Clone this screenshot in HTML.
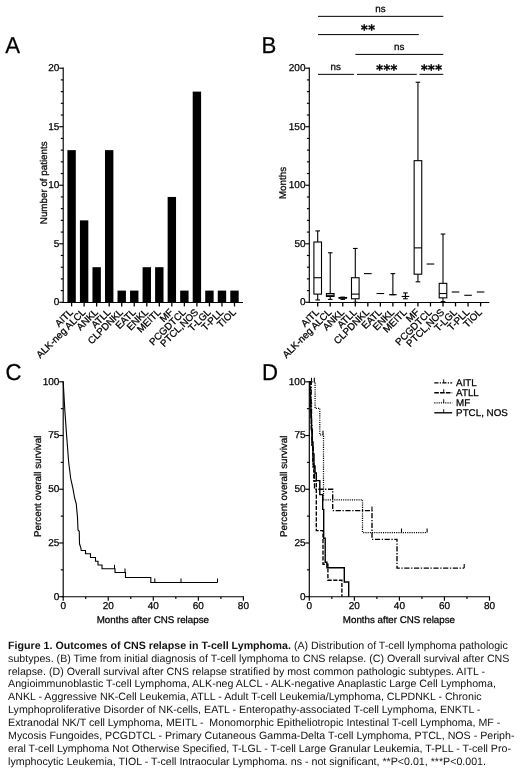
<!DOCTYPE html>
<html lang="en">
<head>
<meta charset="utf-8">
<title>Figure 1. Outcomes of CNS relapse in T-cell Lymphoma</title>
<style>
html,body{margin:0;padding:0;background:#fff;}
body{will-change:transform;width:520px;height:775px;position:relative;overflow:hidden;font-family:"Liberation Sans",Arial,Helvetica,sans-serif;color:#000;}
svg{position:absolute;left:0;top:0;}
svg text.cap{stroke:none;fill:#111;white-space:pre;}
svg text{font-family:"Liberation Sans",Arial,Helvetica,sans-serif;fill:#000;stroke:#000;stroke-width:0.25px;text-rendering:geometricPrecision;}
</style>
</head>
<body>
<svg width="520" height="775" viewBox="0 0 520 775">
<text font-size="23.0" transform="translate(5.2 53.0) scale(0.965 1)">A</text>
<text font-size="23.0" transform="translate(261.6 53.2) scale(0.965 1)">B</text>
<text font-size="23.0" transform="translate(5.6 380.2) scale(0.965 1)">C</text>
<text font-size="23.0" transform="translate(261.9 380.3) scale(0.965 1)">D</text>
<line x1="63.20" y1="67.62" x2="63.20" y2="302.88" stroke="#000" stroke-width="1.15" />
<line x1="62.62" y1="302.50" x2="243.00" y2="302.50" stroke="#000" stroke-width="1.15" />
<line x1="59.20" y1="302.30" x2="63.20" y2="302.30" stroke="#000" stroke-width="1.15" />
<text x="59.40" y="305.15" font-size="10.0" text-anchor="end" >0</text>
<line x1="60.80" y1="290.60" x2="63.20" y2="290.60" stroke="#000" stroke-width="1.15" />
<line x1="60.80" y1="278.89" x2="63.20" y2="278.89" stroke="#000" stroke-width="1.15" />
<line x1="60.80" y1="267.19" x2="63.20" y2="267.19" stroke="#000" stroke-width="1.15" />
<line x1="60.80" y1="255.48" x2="63.20" y2="255.48" stroke="#000" stroke-width="1.15" />
<line x1="59.20" y1="243.78" x2="63.20" y2="243.78" stroke="#000" stroke-width="1.15" />
<text x="59.40" y="246.62" font-size="10.0" text-anchor="end" >5</text>
<line x1="60.80" y1="232.07" x2="63.20" y2="232.07" stroke="#000" stroke-width="1.15" />
<line x1="60.80" y1="220.37" x2="63.20" y2="220.37" stroke="#000" stroke-width="1.15" />
<line x1="60.80" y1="208.66" x2="63.20" y2="208.66" stroke="#000" stroke-width="1.15" />
<line x1="60.80" y1="196.95" x2="63.20" y2="196.95" stroke="#000" stroke-width="1.15" />
<line x1="59.20" y1="185.25" x2="63.20" y2="185.25" stroke="#000" stroke-width="1.15" />
<text x="59.40" y="188.10" font-size="10.0" text-anchor="end" >10</text>
<line x1="60.80" y1="173.54" x2="63.20" y2="173.54" stroke="#000" stroke-width="1.15" />
<line x1="60.80" y1="161.84" x2="63.20" y2="161.84" stroke="#000" stroke-width="1.15" />
<line x1="60.80" y1="150.13" x2="63.20" y2="150.13" stroke="#000" stroke-width="1.15" />
<line x1="60.80" y1="138.43" x2="63.20" y2="138.43" stroke="#000" stroke-width="1.15" />
<line x1="59.20" y1="126.72" x2="63.20" y2="126.72" stroke="#000" stroke-width="1.15" />
<text x="59.40" y="129.57" font-size="10.0" text-anchor="end" >15</text>
<line x1="60.80" y1="115.02" x2="63.20" y2="115.02" stroke="#000" stroke-width="1.15" />
<line x1="60.80" y1="103.31" x2="63.20" y2="103.31" stroke="#000" stroke-width="1.15" />
<line x1="60.80" y1="91.61" x2="63.20" y2="91.61" stroke="#000" stroke-width="1.15" />
<line x1="60.80" y1="79.90" x2="63.20" y2="79.90" stroke="#000" stroke-width="1.15" />
<line x1="59.20" y1="68.20" x2="63.20" y2="68.20" stroke="#000" stroke-width="1.15" />
<text x="59.40" y="71.05" font-size="10.0" text-anchor="end" >20</text>
<rect x="67.40" y="150.13" width="8.4" height="152.17" fill="#000"/>
<line x1="71.60" y1="302.30" x2="71.60" y2="306.40" stroke="#000" stroke-width="1.3" />
<text x="73.60" y="312.80" font-size="9.8" text-anchor="end" transform="rotate(-45 73.60 312.80)">AITL</text>
<rect x="79.93" y="220.37" width="8.4" height="81.94" fill="#000"/>
<line x1="84.13" y1="302.30" x2="84.13" y2="306.40" stroke="#000" stroke-width="1.3" />
<text x="86.13" y="312.80" font-size="9.8" text-anchor="end" transform="rotate(-45 86.13 312.80)">ALK-neg ALCL</text>
<rect x="92.46" y="267.19" width="8.4" height="35.12" fill="#000"/>
<line x1="96.66" y1="302.30" x2="96.66" y2="306.40" stroke="#000" stroke-width="1.3" />
<text x="98.66" y="312.80" font-size="9.8" text-anchor="end" transform="rotate(-45 98.66 312.80)">ANKL</text>
<rect x="104.99" y="150.13" width="8.4" height="152.17" fill="#000"/>
<line x1="109.19" y1="302.30" x2="109.19" y2="306.40" stroke="#000" stroke-width="1.3" />
<text x="111.19" y="312.80" font-size="9.8" text-anchor="end" transform="rotate(-45 111.19 312.80)">ATLL</text>
<rect x="117.52" y="290.60" width="8.4" height="11.71" fill="#000"/>
<line x1="121.72" y1="302.30" x2="121.72" y2="306.40" stroke="#000" stroke-width="1.3" />
<text x="123.72" y="312.80" font-size="9.8" text-anchor="end" transform="rotate(-45 123.72 312.80)">CLPDNKL</text>
<rect x="130.05" y="290.60" width="8.4" height="11.71" fill="#000"/>
<line x1="134.25" y1="302.30" x2="134.25" y2="306.40" stroke="#000" stroke-width="1.3" />
<text x="136.25" y="312.80" font-size="9.8" text-anchor="end" transform="rotate(-45 136.25 312.80)">EATL</text>
<rect x="142.58" y="267.19" width="8.4" height="35.12" fill="#000"/>
<line x1="146.78" y1="302.30" x2="146.78" y2="306.40" stroke="#000" stroke-width="1.3" />
<text x="148.78" y="312.80" font-size="9.8" text-anchor="end" transform="rotate(-45 148.78 312.80)">ENKL</text>
<rect x="155.11" y="267.19" width="8.4" height="35.12" fill="#000"/>
<line x1="159.31" y1="302.30" x2="159.31" y2="306.40" stroke="#000" stroke-width="1.3" />
<text x="161.31" y="312.80" font-size="9.8" text-anchor="end" transform="rotate(-45 161.31 312.80)">MEITL</text>
<rect x="167.64" y="196.95" width="8.4" height="105.35" fill="#000"/>
<line x1="171.84" y1="302.30" x2="171.84" y2="306.40" stroke="#000" stroke-width="1.3" />
<text x="173.84" y="312.80" font-size="9.8" text-anchor="end" transform="rotate(-45 173.84 312.80)">MF</text>
<rect x="180.17" y="290.60" width="8.4" height="11.71" fill="#000"/>
<line x1="184.37" y1="302.30" x2="184.37" y2="306.40" stroke="#000" stroke-width="1.3" />
<text x="186.37" y="312.80" font-size="9.8" text-anchor="end" transform="rotate(-45 186.37 312.80)">PCGDTCL</text>
<rect x="192.70" y="91.61" width="8.4" height="210.69" fill="#000"/>
<line x1="196.90" y1="302.30" x2="196.90" y2="306.40" stroke="#000" stroke-width="1.3" />
<text x="198.90" y="312.80" font-size="9.8" text-anchor="end" transform="rotate(-45 198.90 312.80)">PTCL,NOS</text>
<rect x="205.23" y="290.60" width="8.4" height="11.71" fill="#000"/>
<line x1="209.43" y1="302.30" x2="209.43" y2="306.40" stroke="#000" stroke-width="1.3" />
<text x="211.43" y="312.80" font-size="9.8" text-anchor="end" transform="rotate(-45 211.43 312.80)">T-LGL</text>
<rect x="217.76" y="290.60" width="8.4" height="11.71" fill="#000"/>
<line x1="221.96" y1="302.30" x2="221.96" y2="306.40" stroke="#000" stroke-width="1.3" />
<text x="223.96" y="312.80" font-size="9.8" text-anchor="end" transform="rotate(-45 223.96 312.80)">T-PLL</text>
<rect x="230.29" y="290.60" width="8.4" height="11.71" fill="#000"/>
<line x1="234.49" y1="302.30" x2="234.49" y2="306.40" stroke="#000" stroke-width="1.3" />
<text x="236.49" y="312.80" font-size="9.8" text-anchor="end" transform="rotate(-45 236.49 312.80)">TIOL</text>
<text x="0.00" y="0.00" font-size="9.8" text-anchor="middle" transform="translate(47.3 182.8) rotate(-90)">Number of patients</text>
<line x1="309.30" y1="67.62" x2="309.30" y2="302.88" stroke="#000" stroke-width="1.15" />
<line x1="308.73" y1="302.50" x2="489.30" y2="302.50" stroke="#000" stroke-width="1.15" />
<line x1="305.30" y1="302.30" x2="309.30" y2="302.30" stroke="#000" stroke-width="1.15" />
<text x="305.50" y="305.15" font-size="10.0" text-anchor="end" >0</text>
<line x1="306.90" y1="290.60" x2="309.30" y2="290.60" stroke="#000" stroke-width="1.15" />
<line x1="306.90" y1="278.89" x2="309.30" y2="278.89" stroke="#000" stroke-width="1.15" />
<line x1="306.90" y1="267.19" x2="309.30" y2="267.19" stroke="#000" stroke-width="1.15" />
<line x1="306.90" y1="255.48" x2="309.30" y2="255.48" stroke="#000" stroke-width="1.15" />
<line x1="305.30" y1="243.78" x2="309.30" y2="243.78" stroke="#000" stroke-width="1.15" />
<text x="305.50" y="246.62" font-size="10.0" text-anchor="end" >50</text>
<line x1="306.90" y1="232.07" x2="309.30" y2="232.07" stroke="#000" stroke-width="1.15" />
<line x1="306.90" y1="220.37" x2="309.30" y2="220.37" stroke="#000" stroke-width="1.15" />
<line x1="306.90" y1="208.66" x2="309.30" y2="208.66" stroke="#000" stroke-width="1.15" />
<line x1="306.90" y1="196.95" x2="309.30" y2="196.95" stroke="#000" stroke-width="1.15" />
<line x1="305.30" y1="185.25" x2="309.30" y2="185.25" stroke="#000" stroke-width="1.15" />
<text x="305.50" y="188.10" font-size="10.0" text-anchor="end" >100</text>
<line x1="306.90" y1="173.54" x2="309.30" y2="173.54" stroke="#000" stroke-width="1.15" />
<line x1="306.90" y1="161.84" x2="309.30" y2="161.84" stroke="#000" stroke-width="1.15" />
<line x1="306.90" y1="150.13" x2="309.30" y2="150.13" stroke="#000" stroke-width="1.15" />
<line x1="306.90" y1="138.43" x2="309.30" y2="138.43" stroke="#000" stroke-width="1.15" />
<line x1="305.30" y1="126.72" x2="309.30" y2="126.72" stroke="#000" stroke-width="1.15" />
<text x="305.50" y="129.57" font-size="10.0" text-anchor="end" >150</text>
<line x1="306.90" y1="115.02" x2="309.30" y2="115.02" stroke="#000" stroke-width="1.15" />
<line x1="306.90" y1="103.31" x2="309.30" y2="103.31" stroke="#000" stroke-width="1.15" />
<line x1="306.90" y1="91.61" x2="309.30" y2="91.61" stroke="#000" stroke-width="1.15" />
<line x1="306.90" y1="79.91" x2="309.30" y2="79.91" stroke="#000" stroke-width="1.15" />
<line x1="305.30" y1="68.20" x2="309.30" y2="68.20" stroke="#000" stroke-width="1.15" />
<text x="305.50" y="71.05" font-size="10.0" text-anchor="end" >200</text>
<text x="0.00" y="0.00" font-size="9.8" text-anchor="middle" transform="translate(285.8 183.0) rotate(-90)">Months</text>
<line x1="317.70" y1="302.30" x2="317.70" y2="306.40" stroke="#000" stroke-width="1.3" />
<text x="319.70" y="312.80" font-size="9.8" text-anchor="end" transform="rotate(-45 319.70 312.80)">AITL</text>
<line x1="317.70" y1="230.90" x2="317.70" y2="242.02" stroke="#000" stroke-width="1.1" />
<line x1="317.70" y1="294.11" x2="317.70" y2="299.96" stroke="#000" stroke-width="1.1" />
<line x1="315.40" y1="230.90" x2="320.00" y2="230.90" stroke="#000" stroke-width="1.1" />
<line x1="315.40" y1="299.96" x2="320.00" y2="299.96" stroke="#000" stroke-width="1.1" />
<rect x="313.90" y="242.02" width="7.6" height="52.09" fill="#fff" stroke="#000" stroke-width="1.1"/>
<line x1="313.90" y1="277.72" x2="321.50" y2="277.72" stroke="#000" stroke-width="1.1" />
<line x1="330.23" y1="302.30" x2="330.23" y2="306.40" stroke="#000" stroke-width="1.3" />
<text x="332.23" y="312.80" font-size="9.8" text-anchor="end" transform="rotate(-45 332.23 312.80)">ALK-neg ALCL</text>
<line x1="330.23" y1="252.79" x2="330.23" y2="293.52" stroke="#000" stroke-width="1.1" />
<line x1="330.23" y1="296.45" x2="330.23" y2="299.37" stroke="#000" stroke-width="1.1" />
<line x1="327.93" y1="252.79" x2="332.53" y2="252.79" stroke="#000" stroke-width="1.1" />
<line x1="327.93" y1="299.37" x2="332.53" y2="299.37" stroke="#000" stroke-width="1.1" />
<rect x="326.43" y="293.52" width="7.6" height="2.93" fill="#fff" stroke="#000" stroke-width="1.1"/>
<line x1="326.43" y1="295.28" x2="334.03" y2="295.28" stroke="#000" stroke-width="1.1" />
<line x1="342.76" y1="302.30" x2="342.76" y2="306.40" stroke="#000" stroke-width="1.3" />
<text x="344.76" y="312.80" font-size="9.8" text-anchor="end" transform="rotate(-45 344.76 312.80)">ANKL</text>
<line x1="342.76" y1="297.15" x2="342.76" y2="297.50" stroke="#000" stroke-width="1.1" />
<line x1="342.76" y1="298.20" x2="342.76" y2="299.37" stroke="#000" stroke-width="1.1" />
<line x1="340.46" y1="297.15" x2="345.06" y2="297.15" stroke="#000" stroke-width="1.1" />
<line x1="340.46" y1="299.37" x2="345.06" y2="299.37" stroke="#000" stroke-width="1.1" />
<rect x="338.96" y="297.50" width="7.6" height="0.70" fill="#fff" stroke="#000" stroke-width="1.1"/>
<line x1="338.96" y1="297.85" x2="346.56" y2="297.85" stroke="#000" stroke-width="1.1" />
<line x1="355.29" y1="302.30" x2="355.29" y2="306.40" stroke="#000" stroke-width="1.3" />
<text x="357.29" y="312.80" font-size="9.8" text-anchor="end" transform="rotate(-45 357.29 312.80)">ATLL</text>
<line x1="355.29" y1="248.46" x2="355.29" y2="277.72" stroke="#000" stroke-width="1.1" />
<line x1="355.29" y1="298.79" x2="355.29" y2="302.30" stroke="#000" stroke-width="1.1" />
<line x1="352.99" y1="248.46" x2="357.59" y2="248.46" stroke="#000" stroke-width="1.1" />
<line x1="352.99" y1="302.30" x2="357.59" y2="302.30" stroke="#000" stroke-width="1.1" />
<rect x="351.49" y="277.72" width="7.6" height="21.07" fill="#fff" stroke="#000" stroke-width="1.1"/>
<line x1="351.49" y1="294.11" x2="359.09" y2="294.11" stroke="#000" stroke-width="1.1" />
<line x1="367.82" y1="302.30" x2="367.82" y2="306.40" stroke="#000" stroke-width="1.3" />
<text x="369.82" y="312.80" font-size="9.8" text-anchor="end" transform="rotate(-45 369.82 312.80)">CLPDNKL</text>
<line x1="364.02" y1="273.62" x2="371.62" y2="273.62" stroke="#000" stroke-width="1.1" />
<line x1="380.35" y1="302.30" x2="380.35" y2="306.40" stroke="#000" stroke-width="1.3" />
<text x="382.35" y="312.80" font-size="9.8" text-anchor="end" transform="rotate(-45 382.35 312.80)">EATL</text>
<line x1="376.55" y1="293.52" x2="384.15" y2="293.52" stroke="#000" stroke-width="1.1" />
<line x1="392.88" y1="302.30" x2="392.88" y2="306.40" stroke="#000" stroke-width="1.3" />
<text x="394.88" y="312.80" font-size="9.8" text-anchor="end" transform="rotate(-45 394.88 312.80)">ENKL</text>
<line x1="392.88" y1="273.62" x2="392.88" y2="294.69" stroke="#000" stroke-width="1.1" />
<line x1="392.88" y1="294.69" x2="392.88" y2="294.69" stroke="#000" stroke-width="1.1" />
<line x1="390.58" y1="273.62" x2="395.18" y2="273.62" stroke="#000" stroke-width="1.1" />
<line x1="390.58" y1="294.69" x2="395.18" y2="294.69" stroke="#000" stroke-width="1.1" />
<line x1="389.08" y1="294.69" x2="396.68" y2="294.69" stroke="#000" stroke-width="1.1" />
<line x1="405.41" y1="302.30" x2="405.41" y2="306.40" stroke="#000" stroke-width="1.3" />
<text x="407.41" y="312.80" font-size="9.8" text-anchor="end" transform="rotate(-45 407.41 312.80)">MEITL</text>
<line x1="405.41" y1="292.94" x2="405.41" y2="296.45" stroke="#000" stroke-width="1.1" />
<line x1="405.41" y1="296.45" x2="405.41" y2="298.79" stroke="#000" stroke-width="1.1" />
<line x1="403.11" y1="292.94" x2="407.71" y2="292.94" stroke="#000" stroke-width="1.1" />
<line x1="403.11" y1="298.79" x2="407.71" y2="298.79" stroke="#000" stroke-width="1.1" />
<line x1="401.61" y1="296.45" x2="409.21" y2="296.45" stroke="#000" stroke-width="1.1" />
<line x1="417.94" y1="302.30" x2="417.94" y2="306.40" stroke="#000" stroke-width="1.3" />
<text x="419.94" y="312.80" font-size="9.8" text-anchor="end" transform="rotate(-45 419.94 312.80)">MF</text>
<line x1="417.94" y1="82.25" x2="417.94" y2="160.67" stroke="#000" stroke-width="1.1" />
<line x1="417.94" y1="274.21" x2="417.94" y2="281.82" stroke="#000" stroke-width="1.1" />
<line x1="415.64" y1="82.25" x2="420.24" y2="82.25" stroke="#000" stroke-width="1.1" />
<line x1="415.64" y1="281.82" x2="420.24" y2="281.82" stroke="#000" stroke-width="1.1" />
<rect x="414.14" y="160.67" width="7.6" height="113.54" fill="#fff" stroke="#000" stroke-width="1.1"/>
<line x1="414.14" y1="247.87" x2="421.74" y2="247.87" stroke="#000" stroke-width="1.1" />
<line x1="430.47" y1="302.30" x2="430.47" y2="306.40" stroke="#000" stroke-width="1.3" />
<text x="432.47" y="312.80" font-size="9.8" text-anchor="end" transform="rotate(-45 432.47 312.80)">PCGDTCL</text>
<line x1="426.67" y1="264.02" x2="434.27" y2="264.02" stroke="#000" stroke-width="1.1" />
<line x1="443.00" y1="302.30" x2="443.00" y2="306.40" stroke="#000" stroke-width="1.3" />
<text x="445.00" y="312.80" font-size="9.8" text-anchor="end" transform="rotate(-45 445.00 312.80)">PTCL,NOS</text>
<line x1="443.00" y1="234.06" x2="443.00" y2="283.34" stroke="#000" stroke-width="1.1" />
<line x1="443.00" y1="297.85" x2="443.00" y2="301.60" stroke="#000" stroke-width="1.1" />
<line x1="440.70" y1="234.06" x2="445.30" y2="234.06" stroke="#000" stroke-width="1.1" />
<line x1="440.70" y1="301.60" x2="445.30" y2="301.60" stroke="#000" stroke-width="1.1" />
<rect x="439.20" y="283.34" width="7.6" height="14.51" fill="#fff" stroke="#000" stroke-width="1.1"/>
<line x1="439.20" y1="293.52" x2="446.80" y2="293.52" stroke="#000" stroke-width="1.1" />
<line x1="455.53" y1="302.30" x2="455.53" y2="306.40" stroke="#000" stroke-width="1.3" />
<text x="457.53" y="312.80" font-size="9.8" text-anchor="end" transform="rotate(-45 457.53 312.80)">T-LGL</text>
<line x1="451.73" y1="292.00" x2="459.33" y2="292.00" stroke="#000" stroke-width="1.1" />
<line x1="468.06" y1="302.30" x2="468.06" y2="306.40" stroke="#000" stroke-width="1.3" />
<text x="470.06" y="312.80" font-size="9.8" text-anchor="end" transform="rotate(-45 470.06 312.80)">T-PLL</text>
<line x1="464.26" y1="295.28" x2="471.86" y2="295.28" stroke="#000" stroke-width="1.1" />
<line x1="480.59" y1="302.30" x2="480.59" y2="306.40" stroke="#000" stroke-width="1.3" />
<text x="482.59" y="312.80" font-size="9.8" text-anchor="end" transform="rotate(-45 482.59 312.80)">TIOL</text>
<line x1="476.79" y1="292.00" x2="484.39" y2="292.00" stroke="#000" stroke-width="1.1" />
<line x1="318.00" y1="16.35" x2="443.30" y2="16.35" stroke="#000" stroke-width="1.0" />
<line x1="318.00" y1="34.60" x2="418.80" y2="34.60" stroke="#000" stroke-width="1.0" />
<line x1="355.40" y1="54.40" x2="443.30" y2="54.40" stroke="#000" stroke-width="1.0" />
<line x1="318.00" y1="74.35" x2="354.10" y2="74.35" stroke="#000" stroke-width="1.0" />
<line x1="357.00" y1="74.35" x2="416.80" y2="74.35" stroke="#000" stroke-width="1.0" />
<line x1="419.50" y1="74.35" x2="443.30" y2="74.35" stroke="#000" stroke-width="1.0" />
<text x="380.50" y="12.20" font-size="9.8" text-anchor="middle" >ns</text>
<text x="399.30" y="50.00" font-size="9.8" text-anchor="middle" >ns</text>
<text x="335.80" y="70.30" font-size="9.8" text-anchor="middle" >ns</text>
<text x="368.20" y="34.30" font-size="12.8" text-anchor="middle" font-weight="bold" style="font-family:'DejaVu Sans',sans-serif;stroke-width:0.4px;letter-spacing:0.45px">**</text>
<text x="387.00" y="73.70" font-size="12.8" text-anchor="middle" font-weight="bold" style="font-family:'DejaVu Sans',sans-serif;stroke-width:0.4px;letter-spacing:0.45px">***</text>
<text x="431.60" y="73.70" font-size="12.8" text-anchor="middle" font-weight="bold" style="font-family:'DejaVu Sans',sans-serif;stroke-width:0.4px;letter-spacing:0.45px">***</text>
<line x1="63.20" y1="381.23" x2="63.20" y2="597.28" stroke="#000" stroke-width="1.15" />
<line x1="62.62" y1="596.70" x2="243.97" y2="596.70" stroke="#000" stroke-width="1.15" />
<line x1="59.20" y1="596.70" x2="63.20" y2="596.70" stroke="#000" stroke-width="1.15" />
<text x="59.40" y="599.55" font-size="10.0" text-anchor="end" >0</text>
<line x1="60.80" y1="569.84" x2="63.20" y2="569.84" stroke="#000" stroke-width="1.15" />
<line x1="59.20" y1="542.98" x2="63.20" y2="542.98" stroke="#000" stroke-width="1.15" />
<text x="59.40" y="545.83" font-size="10.0" text-anchor="end" >25</text>
<line x1="60.80" y1="516.11" x2="63.20" y2="516.11" stroke="#000" stroke-width="1.15" />
<line x1="59.20" y1="489.25" x2="63.20" y2="489.25" stroke="#000" stroke-width="1.15" />
<text x="59.40" y="492.10" font-size="10.0" text-anchor="end" >50</text>
<line x1="60.80" y1="462.39" x2="63.20" y2="462.39" stroke="#000" stroke-width="1.15" />
<line x1="59.20" y1="435.52" x2="63.20" y2="435.52" stroke="#000" stroke-width="1.15" />
<text x="59.40" y="438.38" font-size="10.0" text-anchor="end" >75</text>
<line x1="60.80" y1="408.66" x2="63.20" y2="408.66" stroke="#000" stroke-width="1.15" />
<line x1="59.20" y1="381.80" x2="63.20" y2="381.80" stroke="#000" stroke-width="1.15" />
<text x="59.40" y="384.65" font-size="10.0" text-anchor="end" >100</text>
<line x1="63.20" y1="596.70" x2="63.20" y2="600.70" stroke="#000" stroke-width="1.15" />
<text x="63.20" y="609.30" font-size="10.0" text-anchor="middle" >0</text>
<line x1="85.72" y1="596.70" x2="85.72" y2="599.10" stroke="#000" stroke-width="1.15" />
<line x1="108.25" y1="596.70" x2="108.25" y2="600.70" stroke="#000" stroke-width="1.15" />
<text x="108.25" y="609.30" font-size="10.0" text-anchor="middle" >20</text>
<line x1="130.78" y1="596.70" x2="130.78" y2="599.10" stroke="#000" stroke-width="1.15" />
<line x1="153.30" y1="596.70" x2="153.30" y2="600.70" stroke="#000" stroke-width="1.15" />
<text x="153.30" y="609.30" font-size="10.0" text-anchor="middle" >40</text>
<line x1="175.82" y1="596.70" x2="175.82" y2="599.10" stroke="#000" stroke-width="1.15" />
<line x1="198.35" y1="596.70" x2="198.35" y2="600.70" stroke="#000" stroke-width="1.15" />
<text x="198.35" y="609.30" font-size="10.0" text-anchor="middle" >60</text>
<line x1="220.88" y1="596.70" x2="220.88" y2="599.10" stroke="#000" stroke-width="1.15" />
<line x1="243.40" y1="596.70" x2="243.40" y2="600.70" stroke="#000" stroke-width="1.15" />
<text x="243.40" y="609.30" font-size="10.0" text-anchor="middle" >80</text>
<text x="152.85" y="623.40" font-size="9.75" text-anchor="middle" >Months after CNS relapse</text>
<text x="0.00" y="0.00" font-size="9.8" text-anchor="middle" transform="translate(40.9 486.3) rotate(-90)">Percent overall survival</text>
<polyline fill="none" stroke="#000" stroke-width="1.1" stroke-linejoin="miter" points="63.2,381.8 64.7,408.4 66.6,435.4 68.7,462.5 70.3,475 70.5,477.5 73,488.8 74.5,497.5 76.25,503.8 77.5,517.5 78,530 79.25,531.3 79.5,543.8 80.75,547.5 81.25,550.5 85.5,550.5 85.5,553.8 90.5,553.8 90.5,557.5 95.5,557.5 95.5,561.3 98,561.3 98,565 102,565 102,568.8 115,568.8 115,572.5 125.5,572.5 125.5,577.5 150.8,577.5 150.8,582.5 217.5,582.5"/>
<line x1="114.50" y1="568.80" x2="114.50" y2="564.80" stroke="#000" stroke-width="1.05" />
<line x1="125.00" y1="572.50" x2="125.00" y2="568.50" stroke="#000" stroke-width="1.05" />
<line x1="154.80" y1="582.50" x2="154.80" y2="578.50" stroke="#000" stroke-width="1.05" />
<line x1="181.00" y1="582.50" x2="181.00" y2="578.50" stroke="#000" stroke-width="1.05" />
<line x1="217.50" y1="582.50" x2="217.50" y2="578.50" stroke="#000" stroke-width="1.05" />
<line x1="309.30" y1="381.23" x2="309.30" y2="597.28" stroke="#000" stroke-width="1.15" />
<line x1="308.73" y1="596.70" x2="490.07" y2="596.70" stroke="#000" stroke-width="1.15" />
<line x1="305.30" y1="596.70" x2="309.30" y2="596.70" stroke="#000" stroke-width="1.15" />
<text x="305.50" y="599.55" font-size="10.0" text-anchor="end" >0</text>
<line x1="306.90" y1="569.84" x2="309.30" y2="569.84" stroke="#000" stroke-width="1.15" />
<line x1="305.30" y1="542.98" x2="309.30" y2="542.98" stroke="#000" stroke-width="1.15" />
<text x="305.50" y="545.83" font-size="10.0" text-anchor="end" >25</text>
<line x1="306.90" y1="516.11" x2="309.30" y2="516.11" stroke="#000" stroke-width="1.15" />
<line x1="305.30" y1="489.25" x2="309.30" y2="489.25" stroke="#000" stroke-width="1.15" />
<text x="305.50" y="492.10" font-size="10.0" text-anchor="end" >50</text>
<line x1="306.90" y1="462.39" x2="309.30" y2="462.39" stroke="#000" stroke-width="1.15" />
<line x1="305.30" y1="435.52" x2="309.30" y2="435.52" stroke="#000" stroke-width="1.15" />
<text x="305.50" y="438.38" font-size="10.0" text-anchor="end" >75</text>
<line x1="306.90" y1="408.66" x2="309.30" y2="408.66" stroke="#000" stroke-width="1.15" />
<line x1="305.30" y1="381.80" x2="309.30" y2="381.80" stroke="#000" stroke-width="1.15" />
<text x="305.50" y="384.65" font-size="10.0" text-anchor="end" >100</text>
<line x1="309.30" y1="596.70" x2="309.30" y2="600.70" stroke="#000" stroke-width="1.15" />
<text x="309.30" y="609.30" font-size="10.0" text-anchor="middle" >0</text>
<line x1="331.82" y1="596.70" x2="331.82" y2="599.10" stroke="#000" stroke-width="1.15" />
<line x1="354.35" y1="596.70" x2="354.35" y2="600.70" stroke="#000" stroke-width="1.15" />
<text x="354.35" y="609.30" font-size="10.0" text-anchor="middle" >20</text>
<line x1="376.88" y1="596.70" x2="376.88" y2="599.10" stroke="#000" stroke-width="1.15" />
<line x1="399.40" y1="596.70" x2="399.40" y2="600.70" stroke="#000" stroke-width="1.15" />
<text x="399.40" y="609.30" font-size="10.0" text-anchor="middle" >40</text>
<line x1="421.93" y1="596.70" x2="421.93" y2="599.10" stroke="#000" stroke-width="1.15" />
<line x1="444.45" y1="596.70" x2="444.45" y2="600.70" stroke="#000" stroke-width="1.15" />
<text x="444.45" y="609.30" font-size="10.0" text-anchor="middle" >60</text>
<line x1="466.98" y1="596.70" x2="466.98" y2="599.10" stroke="#000" stroke-width="1.15" />
<line x1="489.50" y1="596.70" x2="489.50" y2="600.70" stroke="#000" stroke-width="1.15" />
<text x="489.50" y="609.30" font-size="10.0" text-anchor="middle" >80</text>
<text x="398.95" y="623.40" font-size="9.75" text-anchor="middle" >Months after CNS relapse</text>
<text x="0.00" y="0.00" font-size="9.8" text-anchor="middle" transform="translate(287 486.3) rotate(-90)">Percent overall survival</text>
<polyline fill="none" stroke="#000" stroke-width="1.25" stroke-dasharray="1.1 1.1" points="309.3,381.8 315.1,381.8 315.1,408.3 319.8,408.3 319.8,434.8 323.5,434.8 323.5,499.8 362.5,499.8 362.5,532.5 427.1,532.5"/>
<line x1="311.50" y1="381.80" x2="311.50" y2="377.80" stroke="#000" stroke-width="1.1" />
<line x1="314.30" y1="381.80" x2="314.30" y2="377.80" stroke="#000" stroke-width="1.1" />
<line x1="323.00" y1="434.80" x2="323.00" y2="430.80" stroke="#000" stroke-width="1.1" />
<line x1="401.50" y1="532.50" x2="401.50" y2="528.50" stroke="#000" stroke-width="1.1" />
<line x1="427.10" y1="532.50" x2="427.10" y2="528.50" stroke="#000" stroke-width="1.1" />
<polyline fill="none" stroke="#000" stroke-width="1.35" stroke-dasharray="5.2 1.6 1.3 1.6" points="309.3,381.8 311.2,381.8 311.2,403 311.5,403 311.5,424 312,424 312,446 313,446 313,467 314.5,467 314.5,489.2 332.7,489.2 332.7,510.6 372.0,510.6 372.0,539.3 397.0,539.3 397.0,568.1 464.2,568.1"/>
<line x1="372.00" y1="510.60" x2="372.00" y2="506.60" stroke="#000" stroke-width="1.1" />
<line x1="464.20" y1="568.10" x2="464.20" y2="564.10" stroke="#000" stroke-width="1.1" />
<polyline fill="none" stroke="#000" stroke-width="1.35" stroke-dasharray="4.2 1.5" points="309.3,381.8 310.6,381.8 310.6,398 310.9,398 310.9,414 311.3,414 311.3,431 312,431 312,447 312.8,447 312.8,464 313.8,464 313.8,481 316.3,481 316.3,530.6 323,530.6 323,564.2 327.9,564.2 327.9,580.2 341.9,580.2 341.9,596.7"/>
<polyline fill="none" stroke="#000" stroke-width="1.4"  points="309.3,381.8 309.8,381.8 309.8,394 310.3,394 310.3,406 310.9,406 310.9,418 311.5,418 311.5,430 312.2,430 312.2,442 313,442 313,454 314,454 314,466 315,466 315,473 316.3,473 316.3,480.6 319.8,480.6 319.8,494.6 322.7,494.6 322.7,509.4 323.7,509.4 323.7,538.3 325.2,538.3 325.2,562.3 326.9,562.3 326.9,567.8 344.3,567.8 344.3,582.0 348.7,582.0 348.7,596.7"/>
<line x1="434.30" y1="382.90" x2="452.20" y2="382.90" stroke="#000" stroke-width="1.35" stroke-dasharray="4.2 1.3 1.2 1.3"/>
<line x1="443.70" y1="382.90" x2="443.70" y2="379.30" stroke="#000" stroke-width="0.9" />
<text x="456.10" y="385.68" font-size="9.8" text-anchor="start" >AITL</text>
<line x1="434.30" y1="392.80" x2="452.20" y2="392.80" stroke="#000" stroke-width="1.45" stroke-dasharray="4.6 1.2"/>
<line x1="443.70" y1="392.80" x2="443.70" y2="389.20" stroke="#000" stroke-width="0.9" />
<text x="456.10" y="395.58" font-size="9.8" text-anchor="start" >ATLL</text>
<line x1="434.30" y1="402.80" x2="452.20" y2="402.80" stroke="#000" stroke-width="1.2" stroke-dasharray="1.1 1.1"/>
<line x1="443.70" y1="402.80" x2="443.70" y2="399.20" stroke="#000" stroke-width="0.9" />
<text x="456.10" y="405.58" font-size="9.8" text-anchor="start" >MF</text>
<line x1="434.30" y1="412.80" x2="452.20" y2="412.80" stroke="#000" stroke-width="1.35" />
<line x1="443.70" y1="412.80" x2="443.70" y2="409.20" stroke="#000" stroke-width="0.9" />
<text x="456.10" y="415.58" font-size="9.8" text-anchor="start" >PTCL, NOS</text>
<text class="cap" x="8.1" y="648.90" font-size="10.65" xml:space="preserve"><tspan font-weight="bold">Figure 1. Outcomes of CNS relapse in T-cell Lymphoma.</tspan> (A) Distribution of T-cell lymphoma pathologic</text>
<text class="cap" x="8.1" y="661.76" font-size="10.65" xml:space="preserve">subtypes. (B) Time from initial diagnosis of T-cell lymphoma to CNS relapse. (C) Overall survival after CNS</text>
<text class="cap" x="8.1" y="674.62" font-size="10.65" xml:space="preserve">relapse. (D) Overall survival after CNS relapse stratified by most common pathologic subtypes. AITL -</text>
<text class="cap" x="8.1" y="687.48" font-size="10.65" xml:space="preserve">Angioimmunoblastic T-cell Lymphoma, ALK-neg ALCL - ALK-negative Anaplastic Large Cell Lymphoma,</text>
<text class="cap" x="8.1" y="700.34" font-size="10.65" xml:space="preserve">ANKL - Aggressive NK-Cell Leukemia, ATLL - Adult T-cell Leukemia/Lymphoma, CLPDNKL - Chronic</text>
<text class="cap" x="8.1" y="713.20" font-size="10.65" xml:space="preserve">Lymphoproliferative Disorder of NK-cells, EATL - Enteropathy-associated T-cell Lymphoma, ENKTL -</text>
<text class="cap" x="8.1" y="726.06" font-size="10.65" xml:space="preserve">Extranodal NK/T cell Lymphoma, MEITL -  Monomorphic Epitheliotropic Intestinal T-cell Lymphoma, MF -</text>
<text class="cap" x="8.1" y="738.92" font-size="10.65" xml:space="preserve">Mycosis Fungoides, PCGDTCL - Primary Cutaneous Gamma-Delta T-cell Lymphoma, PTCL, NOS - Periph-</text>
<text class="cap" x="8.1" y="751.78" font-size="10.65" xml:space="preserve">eral T-cell Lymphoma Not Otherwise Specified, T-LGL - T-cell Large Granular Leukemia, T-PLL - T-cell Pro-</text>
<text class="cap" x="8.1" y="764.64" font-size="10.65" xml:space="preserve">lymphocytic Leukemia, TIOL - T-cell Intraocular Lymphoma. ns - not significant, **P&lt;0.01, ***P&lt;0.001.</text>
</svg>
</body>
</html>
